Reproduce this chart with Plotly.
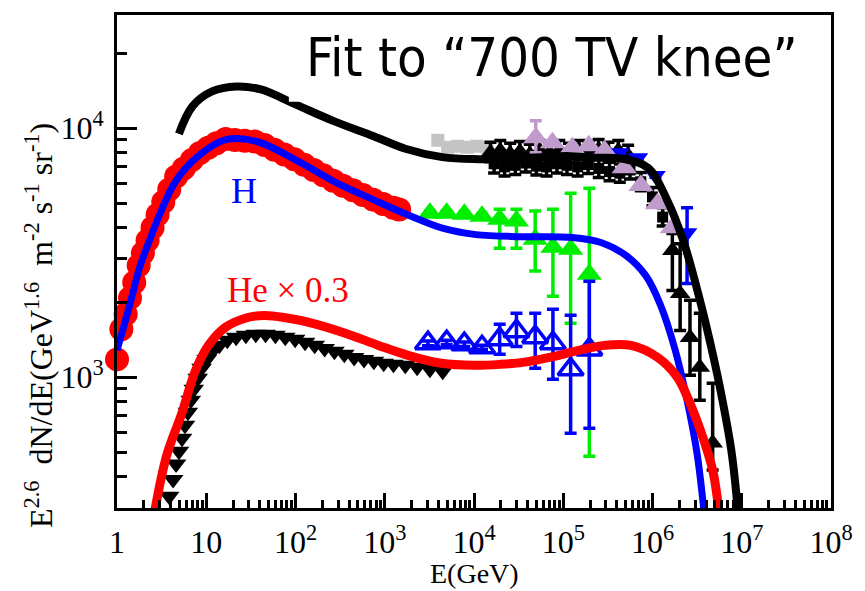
import plotly.graph_objects as go

# ---------------- data ----------------
# model curves
tot_E = [4.94, 7.0, 11.6, 21.8, 41, 100, 273, 752, 1700, 4410, 9900, 33100, 118000, 208000, 447000,
         885000, 1.47e6, 2.21e6, 3.40e6, 4.72e6, 6.08e6, 7.64e6, 8.67e6, 9.1e6]
tot_F = [9500, 12250, 14060, 14720, 14320, 12470, 10660, 9290, 8280, 7660, 7520, 7590, 7730, 7620, 7560,
         6950, 5120, 3540, 2040, 1247, 809, 509, 343, 270]

h_E = [1.0, 1.225, 1.50, 1.79, 2.31, 2.97, 4.58, 8.2, 16.3, 37.6, 104, 286, 787, 1690, 4650, 10500,
       35300, 126000, 269000, 507000, 841000, 1.23e6, 1.80e6, 2.44e6, 3.15e6, 3.66e6, 3.95e6]
h_F = [1283, 1660, 2170, 2760, 3540, 4460, 6160, 7760, 8990, 8830, 7410, 6050, 5120, 4540, 3950, 3740,
       3670, 3640, 3470, 3080, 2560, 1950, 1283, 809, 497, 321, 244]

he_E = [2.43, 3.56, 5.33, 7.60, 10.6, 16.3, 29.2, 44.9, 74.5, 160, 368, 851, 1820, 4300, 9950, 19700,
        35300, 70100, 150000, 290000, 575000, 1.14e6, 1.90e6, 2.63e6, 3.66e6, 4.72e6, 5.36e6, 5.78e6]
he_F = [244, 478, 717, 1067, 1343, 1585, 1738, 1770, 1738, 1644, 1500, 1343, 1225, 1138, 1117, 1127,
        1148, 1202, 1283, 1343, 1343, 1202, 1000, 787, 575, 424, 321, 255]

# proton data (red circles)
p_E = [1.0, 1.12, 1.25, 1.4, 1.56, 1.75, 1.95, 2.2, 2.5, 2.85, 3.3, 3.85, 4.6, 5.6, 6.9, 8.5, 10.5,
       13, 16.5, 21, 27, 35, 45, 58, 75, 97, 125, 160, 205, 265, 340, 440, 570, 740, 960, 1250, 1450]
p_F = [1180, 1560, 1790, 2080, 2400, 2810, 3150, 3540, 3990, 4500, 5060, 5680, 6400, 6900, 7450,
       7950, 8350, 8700, 9050, 8970, 8920, 8850, 8565, 8195, 7840, 7505, 7145, 6800, 6470, 6150, 5884,
       5636, 5400, 5170, 4960, 4800, 4720]

# helium data (black down triangles)
hed_E = [3.84, 4.25, 4.59, 4.95, 5.35, 5.77, 6.22, 6.71, 7.24, 8.02, 8.87, 10.1, 11.7, 14.0, 17.2, 21.6,
         27.8, 35.9, 46.2, 59.6, 76.8, 99.0, 128, 164, 212, 273, 352, 454, 585, 755, 973, 1253, 1700,
         2305, 3206, 4460]
hed_F = [333, 389, 448, 505, 569, 641, 723, 809, 895, 991, 1086, 1180, 1271, 1345, 1409, 1449, 1476,
         1489, 1489, 1476, 1449, 1422, 1383, 1345, 1306, 1271, 1236, 1202, 1180, 1159, 1138, 1127, 1117,
         1096, 1076, 1057]

# green triangles (H, high energy)
g_E = [3210, 4940, 7790, 12300, 19400, 29900, 48500, 76600, 121000, 196000]
g_F = [4560, 4560, 4520, 4430, 4310, 4240, 3580, 3330, 3270, 2590]
g_hi = [4650, 4650, 4610, 4520, 4730, 4730, 4650, 4730, 5480, 5740]
g_lo = [4470, 4470, 4430, 4340, 3300, 3300, 2670, 2115, 1648, 482]

# blue open triangles (He, high energy)
bo_E = [3050, 4940, 7790, 12300, 19400, 29900, 48500, 76600, 121000, 196000]
bo_F = [1370, 1383, 1358, 1320, 1422, 1531, 1449, 1370, 1076, 1294]
bo_hi = [1400, 1410, 1385, 1345, 1633, 1807, 1807, 1875, 1774, 2432]
bo_lo = [1340, 1355, 1330, 1295, 1236, 1330, 1086, 982, 596, 624]

# grey squares (all particle)
gr_E = [3930, 5070, 6530, 8420, 10800, 14000]
gr_F = [8950, 8390, 8470, 8390, 8470, 8390]

# black up triangles (all particle)
bt_E = [15300, 19700, 25400, 32700, 42200, 54400, 70100, 90300, 116000, 150000, 193000, 249000,
        321000, 414000, 533000, 1.67e6, 2.04e6, 2.63e6, 3.39e6, 4.72e6]
bt_F = [7980, 8120, 7910, 8050, 7840, 8120, 7980, 8120, 7910, 8120, 8050, 8200, 7980, 8120, 7760,
        3230, 2170, 1445, 1096, 545]
bt_hi = [8780, 8930, 8700, 8860, 8620, 8930, 8780, 8930, 8700, 8930, 8860, 9020, 8780, 8930, 8540,
         3780, 3440, 2040, 1806, 946]
bt_lo = [7340, 7470, 7280, 7410, 7210, 7470, 7340, 7470, 7280, 7470, 7410, 7540, 7340, 7470, 7140,
         2230, 1540, 1020, 809, 424]

# black squares (all particle)
bs_E = [16800, 22000, 29000, 38000, 50000, 65000, 85000, 110000, 145000, 190000, 250000, 330000,
        430000, 560000, 740000, 1.0e6, 1.3e6]
bs_F = [7200, 7000, 7100, 7250, 7050, 7000, 7200, 7100, 7000, 7150, 6900, 6700, 6600, 6800, 6100,
        5300, 4400]
bs_hi = [7850, 7630, 7740, 7900, 7680, 7630, 7850, 7740, 7630, 7790, 7520, 7300, 7190, 7410, 6650,
         5780, 4800]
bs_lo = [6620, 6440, 6530, 6670, 6490, 6440, 6620, 6530, 6440, 6580, 6350, 6160, 6070, 6260, 5610,
         4880, 4050]

# purple triangles (all particle)
pu_E = [49200, 75700, 126000, 193000, 290000, 482000, 741000, 1.14e6, 1.67e6]
pu_F = [9160, 8750, 8360, 8510, 8120, 6950, 5890, 4980, 3990]
pu_hi = [10720, 8900, 8500, 8650, 8260, 7070, 5990, 5060, 4060]
pu_lo = [7980, 8600, 8220, 8370, 7980, 6830, 5790, 4900, 3920]

# blue down triangles (H knee)
bd_E = [425000, 687000, 1.08e6, 2.44e6]
bd_F = [7980, 7620, 6460, 3810]
bd_hi = [8100, 7740, 6560, 4800]
bd_lo = [7860, 7500, 6360, 2380]

x_ticks = [1, 10, 1e2, 1e3, 1e4, 1e5, 1e6, 1e7, 1e8]
x_ticktext = ["1", "10", "10<sup>2</sup>", "10<sup>3</sup>", "10<sup>4</sup>", "10<sup>5</sup>",
              "10<sup>6</sup>", "10<sup>7</sup>", "10<sup>8</sup>"]
y_ticks = [1e3, 1e4]
y_ticktext = ["10<sup>3</sup>", "10<sup>4</sup>"]


def err(vals, hi, lo, color):
    return dict(type="data", symmetric=False,
                array=[h - v for h, v in zip(hi, vals)],
                arrayminus=[v - l for v, l in zip(vals, lo)],
                color=color, thickness=3.5, width=6)


fig = go.Figure()

# data points
fig.add_trace(go.Scatter(x=p_E, y=p_F, mode="markers", cliponaxis=False,
                         marker=dict(symbol="circle", size=24, color="#ff0000")))
fig.add_trace(go.Scatter(x=hed_E, y=hed_F, mode="markers",
                         marker=dict(symbol="triangle-down", size=18, color="black")))
fig.add_trace(go.Scatter(x=gr_E, y=gr_F, mode="markers",
                         marker=dict(symbol="square", size=13, color="#c4c4c4")))
fig.add_trace(go.Scatter(x=bs_E, y=bs_F, mode="markers",
                         error_y=err(bs_F, bs_hi, bs_lo, "black"),
                         marker=dict(symbol="square", size=11, color="black")))
fig.add_trace(go.Scatter(x=bt_E, y=bt_F, mode="markers",
                         error_y=err(bt_F, bt_hi, bt_lo, "black"),
                         marker=dict(symbol="triangle-up", size=18, color="black")))
fig.add_trace(go.Scatter(x=bd_E, y=bd_F, mode="markers",
                         error_y=err(bd_F, bd_hi, bd_lo, "#0000ff"),
                         marker=dict(symbol="triangle-down", size=18, color="#0000ff")))
fig.add_trace(go.Scatter(x=pu_E, y=pu_F, mode="markers",
                         error_y=err(pu_F, pu_hi, pu_lo, "#c09ccc"),
                         marker=dict(symbol="triangle-up", size=22, color="#c09ccc")))
fig.add_trace(go.Scatter(x=g_E, y=g_F, mode="markers",
                         error_y=err(g_F, g_hi, g_lo, "#00ee00"),
                         marker=dict(symbol="triangle-up", size=22, color="#00ee00")))
fig.add_trace(go.Scatter(x=bo_E, y=bo_F, mode="markers",
                         error_y=err(bo_F, bo_hi, bo_lo, "#0000ff"),
                         marker=dict(symbol="triangle-up-open", size=22, color="#0000ff",
                                     line=dict(width=3.5, color="#0000ff"))))

# model curves
fig.add_trace(go.Scatter(x=tot_E, y=tot_F, mode="lines", line=dict(color="black", width=8, shape="spline")))
fig.add_trace(go.Scatter(x=h_E, y=h_F, mode="lines", line=dict(color="#0000ff", width=7, shape="spline")))
fig.add_trace(go.Scatter(x=he_E, y=he_F, mode="lines", line=dict(color="#ff0000", width=9, shape="spline")))

minor_x = [m * 10 ** k for k in range(0, 8) for m in range(2, 10)]
minor_y = [m * 10 ** k for k in range(2, 5) for m in range(2, 10)]

serif = "Liberation Serif, Times New Roman, serif"

fig.update_xaxes(type="log", range=[0, 8], showline=True, linewidth=3, linecolor="black", mirror=True,
                 tickmode="array", tickvals=x_ticks, ticktext=x_ticktext,
                 ticks="inside", ticklen=15, tickwidth=3, tickcolor="black",
                 minor=dict(tickmode="array", tickvals=minor_x, ticks="inside", ticklen=8,
                            tickwidth=3, tickcolor="black", showgrid=False),
                 showgrid=False, zeroline=False, ticklabelstandoff=4, ticklabeloverflow="allow",
                 tickfont=dict(family=serif, size=32, color="black"))
fig.update_yaxes(type="log", range=[2.475, 4.455], showline=True, linewidth=3, linecolor="black", mirror=True,
                 tickmode="array", tickvals=y_ticks, ticktext=y_ticktext,
                 ticks="inside", ticklen=20, tickwidth=3, tickcolor="black",
                 minor=dict(tickmode="array", tickvals=minor_y, ticks="inside", ticklen=10,
                            tickwidth=3, tickcolor="black", showgrid=False),
                 showgrid=False, zeroline=False, ticklabelstandoff=4, ticklabeloverflow="allow",
                 tickfont=dict(family=serif, size=32, color="black"))

fig.update_layout(
    width=865, height=591, autosize=False,
    margin=dict(l=117, r=21, t=14, b=83),
    paper_bgcolor="white", plot_bgcolor="white",
    showlegend=False,
    shapes=[dict(type="rect", xref="paper", yref="paper", x0=0.2407, x1=0.995, y0=0.824, y1=0.99,
                 fillcolor="white", line=dict(width=0), layer="above")],
    annotations=[
        dict(text="Fit to \u201c700 TV knee\u201d", xref="paper", yref="paper", x=0.609, y=0.913,
             xanchor="center", yanchor="middle", showarrow=False,
             font=dict(family="DejaVu Sans Condensed, DejaVu Sans", size=54, color="black")),
        dict(text="H", xref="paper", yref="paper", x=0.1774, y=0.6437, showarrow=False,
             xanchor="center", yanchor="middle", font=dict(family=serif, size=36, color="#0000ff")),
        dict(text="He \u00d7 0.3", xref="paper", yref="paper", x=0.2393, y=0.4413, showarrow=False,
             xanchor="center", yanchor="middle", font=dict(family=serif, size=35, color="#ff0000")),
        dict(text="E<sup>2.6</sup>  dN/dE(GeV<sup>1.6</sup>  m<sup>-2</sup> s<sup>-1</sup> sr<sup>-1</sup>)",
             xref="paper", yref="paper", x=-0.11, y=0.37, textangle=-90, showarrow=False,
             xanchor="center", yanchor="middle", font=dict(family=serif, size=32, color="black")),
        dict(text="E(GeV)", xref="paper", yref="paper", x=0.5007, y=-0.1336, showarrow=False,
             xanchor="center", yanchor="middle", font=dict(family=serif, size=28, color="black")),
    ],
)

fig.write_html("out.html")
